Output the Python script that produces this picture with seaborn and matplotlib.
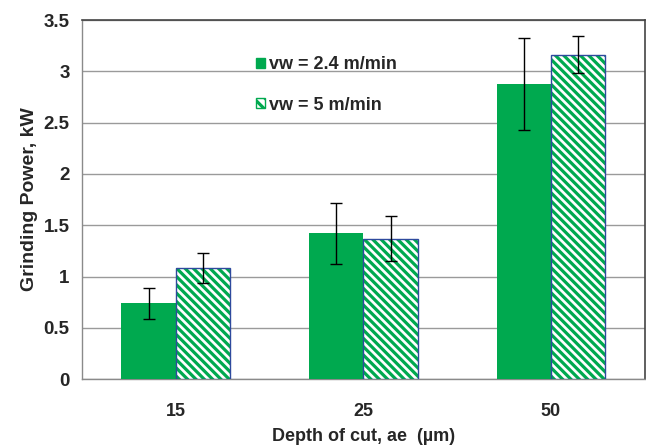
import pandas as pd
import matplotlib.pyplot as plt
import seaborn as sns
from matplotlib.patches import Rectangle, Patch

# data
depths = ["15", "25", "50"]
series = ["vw = 2.4 m/min", "vw = 5 m/min"]
power_24 = [0.74, 1.42, 2.88]
power_5 = [1.08, 1.37, 3.16]
err_24 = [0.15, 0.30, 0.45]
err_5 = [0.145, 0.22, 0.18]

green = "#00A94F"
edge_blue = "#2E4A9E"

df = pd.DataFrame({
    "depth": depths * 2,
    "speed": [series[0]] * 3 + [series[1]] * 3,
    "power": power_24 + power_5,
})

sns.set_style("white")
plt.rcParams['font.family'] = ['Liberation Sans', 'DejaVu Sans']
plt.rcParams['font.weight'] = 'bold'
plt.rcParams['hatch.linewidth'] = 2.3

fig = plt.figure(figsize=(6.46, 4.46), dpi=100)
ax = fig.add_axes([0.127, 0.150, 0.871, 0.805])

sns.barplot(data=df, x="depth", y="power", hue="speed", order=depths,
            hue_order=series, palette=[green, green], width=0.58,
            errorbar=None, saturation=1, ax=ax, zorder=3)

hatch = "\\" * 4
errs = [err_24, err_5]
bar_containers = list(ax.containers)
for i, cont in enumerate(bar_containers):
    for j, p in enumerate(cont.patches):
        p.set_linewidth(0)
        if i == 1:
            p.set_facecolor("white")
            p.set_edgecolor(green)
            p.set_hatch(hatch)
            # thin blue outline drawn over the hatched bar
            ax.add_patch(Rectangle((p.get_x(), 0), p.get_width(), p.get_height(),
                                   fill=False, edgecolor=edge_blue, linewidth=1, zorder=4))
        xc = p.get_x() + p.get_width() / 2
        ax.errorbar(xc, p.get_height(), yerr=errs[i][j], fmt="none", ecolor="black",
                    elinewidth=1, capsize=4.5, capthick=1, zorder=5)

ax.set_ylim(0, 3.5)
ax.set_xlim(-0.5, 2.5)
ax.set_yticks([0, 0.5, 1, 1.5, 2, 2.5, 3, 3.5])
ax.set_yticklabels(["0", "0.5", "1", "1.5", "2", "2.5", "3", "3.5"])
ax.yaxis.grid(True, color="#9a9a9a", linewidth=1, zorder=0)
ax.set_axisbelow(True)

ax.set_xticks([0.5, 1.5], minor=True)
ax.tick_params(axis="x", which="major", length=0, pad=17, labelsize=13)
ax.tick_params(axis="x", which="minor", length=4, color="#8a8a8a", direction="out")
ax.tick_params(axis="y", length=4, color="#8a8a8a", direction="out", pad=5, labelsize=13.5)
for lab in ax.get_xticklabels() + ax.get_yticklabels():
    lab.set_fontweight("bold")

for s in ["left", "bottom"]:
    ax.spines[s].set_color("#8a8a8a")
    ax.spines[s].set_linewidth(1)
for s in ["top", "right"]:
    ax.spines[s].set_color("#444444")
    ax.spines[s].set_linewidth(1.2)

ax.set_xlabel("Depth of cut, ae  (\u00b5m)", fontsize=13, fontweight="bold", labelpad=6)
ax.set_ylabel("Grinding Power, kW", fontsize=14, fontweight="bold", labelpad=4)

handles = [Patch(facecolor=green, edgecolor=green),
           Patch(facecolor="white", edgecolor=green, hatch="\\\\\\")]
leg = ax.legend(handles, series, loc="upper left", bbox_to_anchor=(0.28, 0.945),
                frameon=False, handlelength=0.5, handleheight=0.5, handletextpad=0.25,
                labelspacing=1.3, prop={"weight": "bold", "size": 13})

fig.savefig("out.png", dpi=100)
